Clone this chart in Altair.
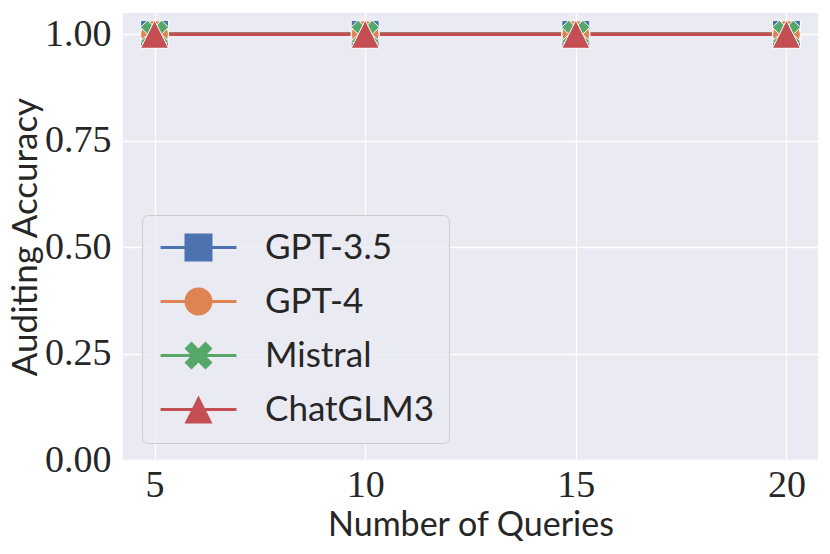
import altair as alt
import pandas as pd

queries = [5, 10, 15, 20]
models = ["GPT-3.5", "GPT-4", "Mistral", "ChatGLM3"]
acc_gpt35 = [1.0, 1.0, 1.0, 1.0]
acc_gpt4 = [1.0, 1.0, 1.0, 1.0]
acc_mistral = [1.0, 1.0, 1.0, 1.0]
acc_chatglm3 = [1.0, 1.0, 1.0, 1.0]
y_ticks = [0.0, 0.25, 0.5, 0.75, 1.0]

colors = ["#4c72b0", "#dd8452", "#55a868", "#c44e52"]

series = {"GPT-3.5": acc_gpt35, "GPT-4": acc_gpt4, "Mistral": acc_mistral, "ChatGLM3": acc_chatglm3}
rows = []
for xi, q in enumerate(queries):
    for mi, m in enumerate(models):
        rows.append({"q": q, "acc": series[m][xi], "model": m, "order": mi})
df = pd.DataFrame(rows)

X_PATH = "M-1,-0.5 L-0.5,-1 L0,-0.5 L0.5,-1 L1,-0.5 L0.5,0 L1,0.5 L0.5,1 L0,0.5 L-0.5,1 L-1,0.5 L-0.5,0 Z"
TRI_PATH = "M0,-1 L1,1 L-1,1 Z"
plot_shapes = ["square", "circle", X_PATH, TRI_PATH]

STUB = "M-2.71,-0.11 L2.71,-0.11 L2.71,0.11 L-2.71,0.11 Z "
legend_shapes = [
    STUB + "M-1,-1 L1,-1 L1,1 L-1,1 Z",
    STUB + "M-1,0 A1,1 0 1,1 1,0 A1,1 0 1,1 -1,0 Z",
    STUB + X_PATH,
    STUB + TRI_PATH,
]

TICK_FONT = "Liberation Serif"
SANS = "Lato"
TXT = "#262626"

xscale = alt.Scale(domain=[4.25, 20.75], nice=False, zero=False)
yscale = alt.Scale(domain=[0, 1.05], nice=False)

xenc = alt.X("q:Q", scale=xscale,
             axis=alt.Axis(values=queries, title="Number of Queries", format="d",
                           labelFont=TICK_FONT, labelFontSize=38, labelColor=TXT,
                           labelPadding=6, titleFont=SANS, titleFontSize=34,
                           titleFontWeight="normal", titleColor=TXT, titlePadding=4))
yenc = alt.Y("acc:Q", scale=yscale,
             axis=alt.Axis(values=y_ticks, title="Auditing Accuracy", format=".2f",
                           labelFont=TICK_FONT, labelFontSize=38, labelColor=TXT,
                           labelPadding=12, titleFont=SANS, titleFontSize=35,
                           titleFontWeight="normal", titleColor=TXT, titlePadding=1))

cscale = alt.Scale(domain=models, range=colors)

lines = alt.Chart(df).mark_line(strokeWidth=3.5).encode(
    x=xenc, y=yenc,
    color=alt.Color("model:N", scale=cscale, legend=None),
    order=alt.Order("q:Q"),
)

points = alt.Chart(df).mark_point(filled=True, size=784, opacity=1, stroke="white", strokeWidth=1).encode(
    x=alt.X("q:Q", scale=xscale), y=alt.Y("acc:Q", scale=yscale),
    color=alt.Color("model:N", scale=cscale, legend=None),
    shape=alt.Shape("model:N", scale=alt.Scale(domain=models, range=plot_shapes), legend=None),
    order=alt.Order("order:Q"),
)

legend_layer = alt.Chart(df).transform_filter("datum.q < 0").mark_point(filled=True, opacity=1).encode(
    x=alt.X("q:Q", scale=xscale), y=alt.Y("acc:Q", scale=yscale),
    color=alt.Color("model:N", scale=cscale,
                    legend=alt.Legend(title=None, orient="none", legendX=19, legendY=202,
                                      symbolSize=784, symbolOffset=24, labelOffset=49,
                                      labelFont=SANS, labelFontSize=35, labelColor=TXT,
                                      labelLimit=400,
                                      rowPadding=18, padding=15, symbolStrokeWidth=0,
                                      fillColor="rgba(234,234,242,0.8)", strokeColor="#cccccc",
                                      cornerRadius=6, symbolOpacity=1)),
    shape=alt.Shape("model:N", scale=alt.Scale(domain=models, range=legend_shapes)),
)

chart = alt.layer(lines, points, legend_layer).resolve_scale(
    color="independent", shape="independent"
).properties(
    width=695, height=447,
    autosize=alt.AutoSizeParams(type="none"),
    padding={"left": 115, "top": 5, "right": 4, "bottom": 86},
).configure_view(fill="#eaeaf2", stroke=None).configure_axis(
    grid=True, gridColor="white", gridWidth=1.3, domain=False, ticks=False,
)

chart.save("out.html", embed_options={"renderer": "svg", "actions": False})
